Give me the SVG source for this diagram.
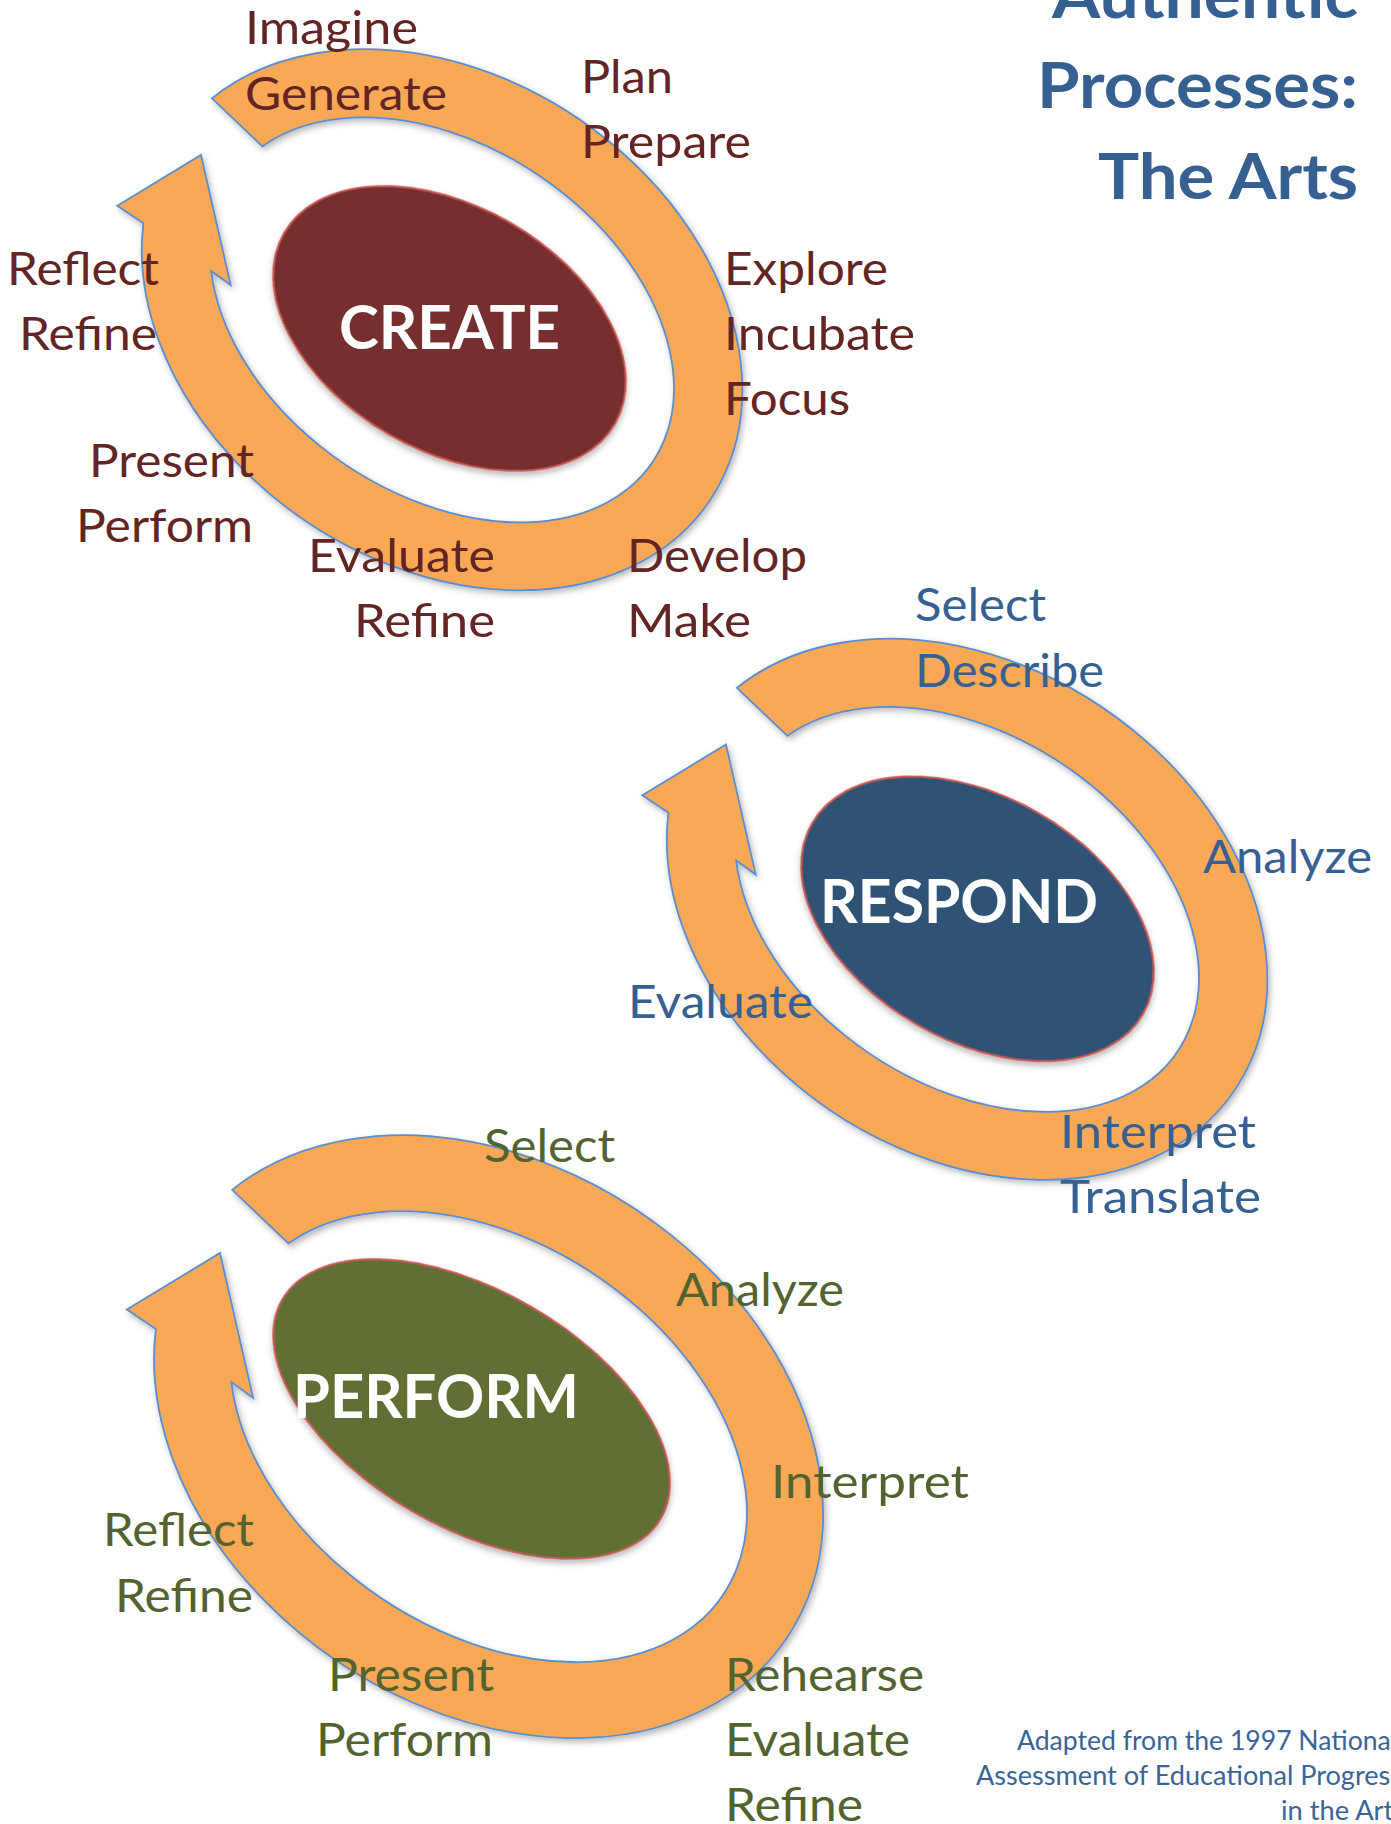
<svg xmlns="http://www.w3.org/2000/svg" xmlns:xlink="http://www.w3.org/1999/xlink" width="1391" height="1824" viewBox="0 0 1391 1824">
<style>
text{font-family:Lato,"Liberation Sans",sans-serif}
.lbl{font-size:46px}
.lc{fill:#632523}
.lb{fill:#366092}
.lg{fill:#526330}
.ctr{font-size:62px;font-weight:bold;fill:#ffffff}
.title{font-size:64px;font-weight:bold;fill:#366092}
.foot{font-size:26px;fill:#3A6496}
.band{fill:#F9A857;stroke:#5A8ED0;stroke-width:1.8;stroke-linejoin:miter}
.oval{stroke:#C95A56;stroke-width:2}
</style>
<defs>
<filter id="sh" x="-10%" y="-10%" width="125%" height="125%">
<feDropShadow dx="2" dy="3" stdDeviation="3" flood-color="#000" flood-opacity="0.28"/>
</filter>
<path id="bandpath" d="M 211.9,98.4 A 323 243 34 1 1 143.4,223.2 L 117.3,205.7 L 201,155 L 230.7,285 L 211.2,270.9 A 254 174 34 1 0 262.4,146.4 Z"/>
</defs>

<g id="title">
<text class="title" x="1358" y="18" text-anchor="end" textLength="306" lengthAdjust="spacingAndGlyphs">Authentic</text>
<text class="title" x="1358" y="108" text-anchor="end" textLength="321" lengthAdjust="spacingAndGlyphs">Processes:</text>
<text class="title" x="1358" y="199" text-anchor="end" textLength="260" lengthAdjust="spacingAndGlyphs">The Arts</text>
</g>

<g id="create">
<use xlink:href="#bandpath" class="band" filter="url(#sh)"/>
<ellipse class="oval" cx="449.5" cy="328.5" rx="191" ry="122" transform="rotate(30 449.5 328.5)" fill="#772F2D" filter="url(#sh)"/>
<text class="ctr" x="339" y="349" textLength="221" lengthAdjust="spacingAndGlyphs">CREATE</text>
<g class="lbl lc">
<text x="245" y="44" textLength="173" lengthAdjust="spacingAndGlyphs">Imagine</text>
<text x="245" y="110" textLength="202" lengthAdjust="spacingAndGlyphs">Generate</text>
<text x="581" y="93" textLength="92" lengthAdjust="spacingAndGlyphs">Plan</text>
<text x="581" y="158" textLength="170" lengthAdjust="spacingAndGlyphs">Prepare</text>
<text x="724" y="285" textLength="164" lengthAdjust="spacingAndGlyphs">Explore</text>
<text x="724" y="350" textLength="191" lengthAdjust="spacingAndGlyphs">Incubate</text>
<text x="724" y="415" textLength="126" lengthAdjust="spacingAndGlyphs">Focus</text>
<text x="159" y="285" text-anchor="end" textLength="152" lengthAdjust="spacingAndGlyphs">Reflect</text>
<text x="157" y="350" text-anchor="end" textLength="138" lengthAdjust="spacingAndGlyphs">Refine</text>
<text x="254" y="477" text-anchor="end" textLength="165" lengthAdjust="spacingAndGlyphs">Present</text>
<text x="253" y="542" text-anchor="end" textLength="177" lengthAdjust="spacingAndGlyphs">Perform</text>
<text x="495" y="572" text-anchor="end" textLength="187" lengthAdjust="spacingAndGlyphs">Evaluate</text>
<text x="495" y="637" text-anchor="end" textLength="141" lengthAdjust="spacingAndGlyphs">Refine</text>
<text x="627" y="572" textLength="180" lengthAdjust="spacingAndGlyphs">Develop</text>
<text x="627" y="637" textLength="124" lengthAdjust="spacingAndGlyphs">Make</text>
</g>
</g>

<g id="respond">
<use xlink:href="#bandpath" class="band" transform="translate(525 589.5)" filter="url(#sh)"/>
<ellipse class="oval" cx="977.5" cy="918.8" rx="191" ry="122" transform="rotate(30 977.5 918.8)" fill="#2F5274" filter="url(#sh)"/>
<text class="ctr" x="820" y="923" textLength="278" lengthAdjust="spacingAndGlyphs">RESPOND</text>
<g class="lbl lb">
<text x="915" y="621" textLength="131" lengthAdjust="spacingAndGlyphs">Select</text>
<text x="915" y="687" textLength="189" lengthAdjust="spacingAndGlyphs">Describe</text>
<text x="1203" y="873" textLength="169" lengthAdjust="spacingAndGlyphs">Analyze</text>
<text x="628" y="1018" textLength="185" lengthAdjust="spacingAndGlyphs">Evaluate</text>
<text x="1060" y="1148" textLength="196" lengthAdjust="spacingAndGlyphs">Interpret</text>
<text x="1060" y="1213" textLength="201" lengthAdjust="spacingAndGlyphs">Translate</text>
</g>
</g>

<g id="perform">
<use xlink:href="#bandpath" class="band" style="stroke-width:1.62" transform="translate(-3.9 1080.3) scale(1.114)" filter="url(#sh)"/>
<ellipse class="oval" cx="471.6" cy="1409" rx="218.6" ry="118.2" transform="rotate(30 471.6 1409)" fill="#617036" filter="url(#sh)"/>
<text class="ctr" x="293" y="1418" textLength="286" lengthAdjust="spacingAndGlyphs">PERFORM</text>
<g class="lbl lg">
<text x="484" y="1162" textLength="131" lengthAdjust="spacingAndGlyphs">Select</text>
<text x="676" y="1306" textLength="168" lengthAdjust="spacingAndGlyphs">Analyze</text>
<text x="771" y="1498" textLength="198" lengthAdjust="spacingAndGlyphs">Interpret</text>
<text x="254" y="1546" text-anchor="end" textLength="151" lengthAdjust="spacingAndGlyphs">Reflect</text>
<text x="253" y="1612" text-anchor="end" textLength="138" lengthAdjust="spacingAndGlyphs">Refine</text>
<text x="494" y="1691" text-anchor="end" textLength="166" lengthAdjust="spacingAndGlyphs">Present</text>
<text x="493" y="1756" text-anchor="end" textLength="177" lengthAdjust="spacingAndGlyphs">Perform</text>
<text x="725" y="1691" textLength="199" lengthAdjust="spacingAndGlyphs">Rehearse</text>
<text x="725" y="1756" textLength="185" lengthAdjust="spacingAndGlyphs">Evaluate</text>
<text x="725" y="1821" textLength="138" lengthAdjust="spacingAndGlyphs">Refine</text>
</g>
</g>

<g id="connectors"></g>

<g id="footer" class="foot">
<text x="1017" y="1750" textLength="380" lengthAdjust="spacingAndGlyphs">Adapted from the 1997 National</text>
<text x="976" y="1785" textLength="426" lengthAdjust="spacingAndGlyphs">Assessment of Educational Progress</text>
<text x="1281" y="1820" textLength="124" lengthAdjust="spacingAndGlyphs">in the Arts</text>
</g>
</svg>
